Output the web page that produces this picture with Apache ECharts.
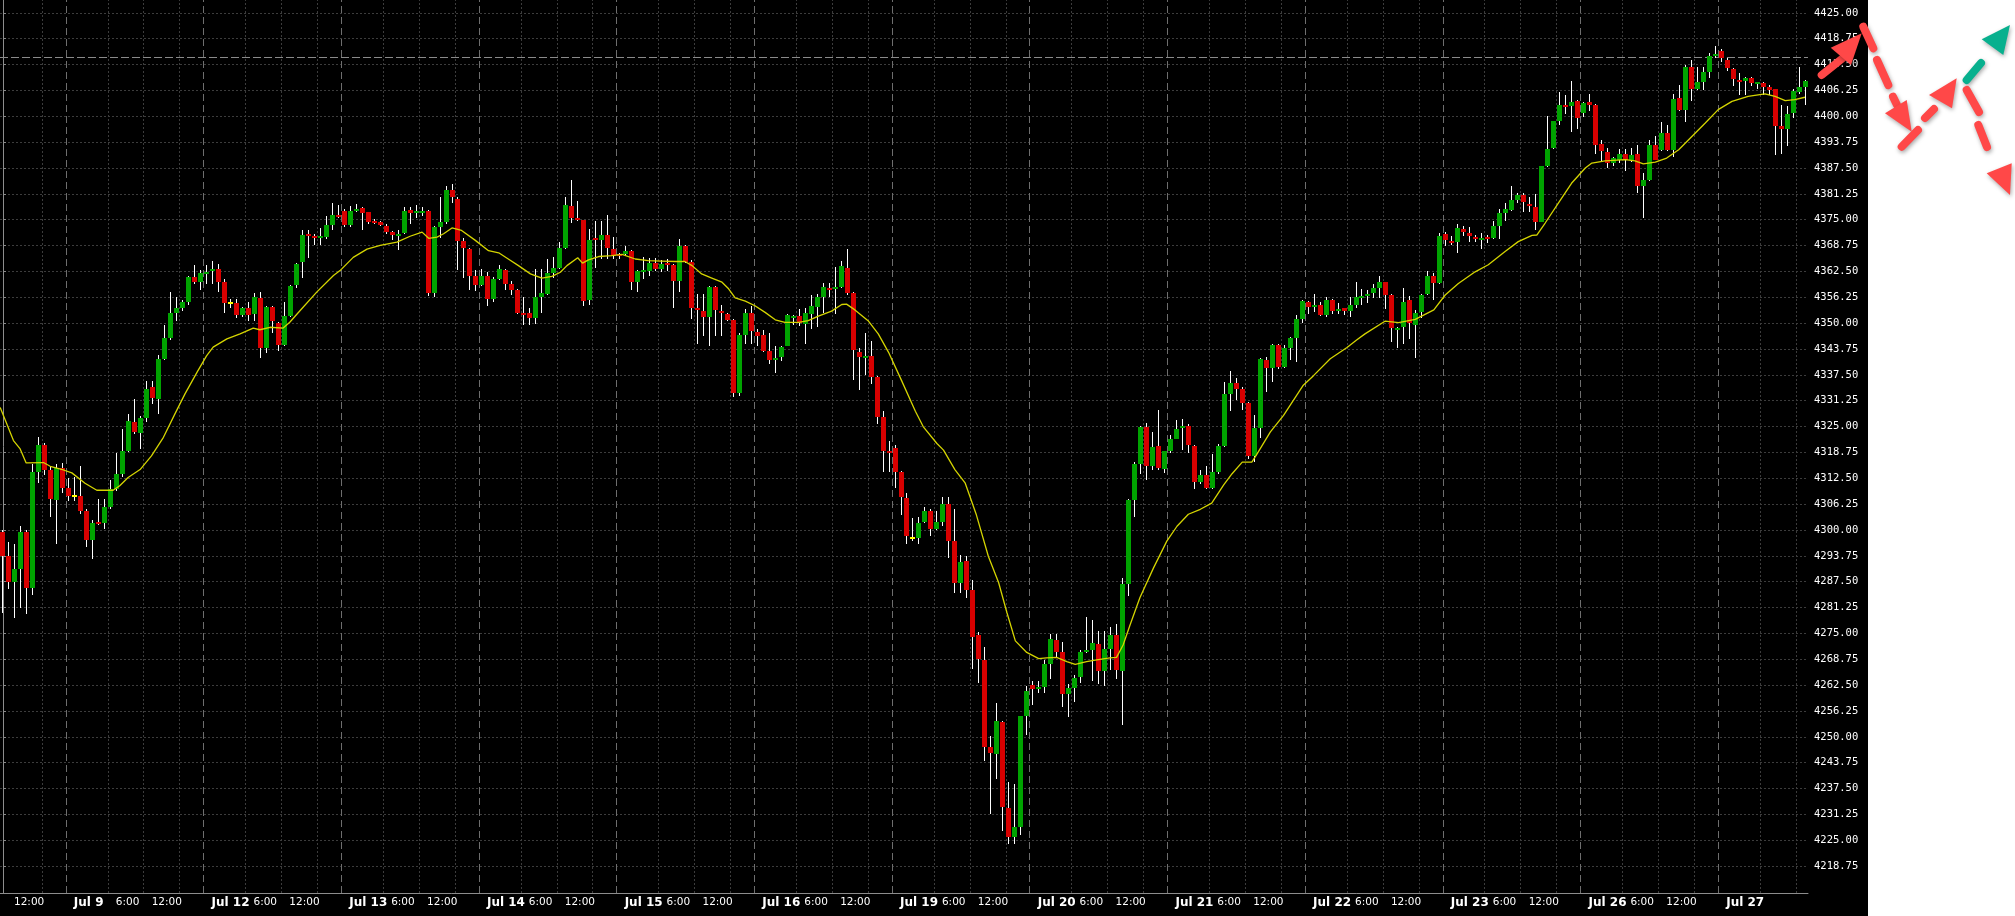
<!DOCTYPE html>
<html><head><meta charset="utf-8">
<script src="https://cdn.jsdelivr.net/npm/echarts@6/dist/echarts.min.js"></script>
<style>
html,body{margin:0;padding:0;background:#fff;}
#c{width:2015px;height:916px;background:linear-gradient(to right,#000 0,#000 1868px,#fff 1868px);}
</style>
</head><body><div id="c"></div>
<script>
// ---- DATA (hourly bars, index 0..301) ----
const opens = [
4299.5,4293.75,4287.5,4290.5,4299.5,4286,4314,4320.5,4314.5,4307.25,
4315,4310.25,4308.25,4308.25,4304.5,4297.5,4302,4301.75,4305.5,4310,
4313.5,4319,4326,4323.5,4327,4334.5,4331.75,4341.25,4346.5,4352.5,
4353.75,4355,4361.25,4360,4362,4362.5,4363,4360,4354.75,4354.75,
4352,4353.75,4352.25,4356,4344,4354,4350,4344.75,4351.75,4359.25,
4364.75,4371.5,4371,4370.5,4370.75,4373.75,4376.25,4377,4373.75,4377,
4377.75,4376.75,4374.75,4374.5,4373.5,4372,4371,4371.75,4377.25,4376.5,
4376.75,4377,4357.25,4373.25,4374.5,4382.25,4380,4369.75,4368,4361.5,
4359.25,4361.5,4355.75,4360.75,4362.75,4359.5,4358,4352.5,4352.5,4351.25,
4356.25,4357,4362,4363.25,4368.25,4378.25,4375.5,4375,4355.5,4370.5,
4370,4371.25,4368,4366.75,4366.75,4367.5,4360,4362.5,4362.5,4364.5,
4363,4364.5,4364,4360.25,4368.75,4364.75,4353.75,4353,4351.5,4358.75,
4353,4352.25,4350.75,4333,4347.25,4352.5,4347.75,4347.25,4343.25,4341,
4341.75,4344.5,4351.25,4351.75,4349.75,4352.25,4354,4356.25,4358.5,4358.25,
4358.75,4363.25,4357.25,4343,4341.5,4342,4337,4327.25,4319,4319.75,
4314,4307.75,4298,4298,4302,4304.5,4300.25,4302,4306.25,4297.25,
4287.25,4292.5,4285.5,4274.5,4268.5,4247.5,4245.75,4253.5,4232.75,4225.75,
4228.25,4255,4262.5,4261.5,4262,4267.5,4273.5,4270.5,4260.25,4261.75,
4264.5,4270.5,4271,4272.5,4266,4271.25,4274.5,4266,4287,4307.25,
4316,4325,4315.5,4320.25,4314.75,4319,4322,4324.75,4325.25,4320.25,
4311.5,4313.25,4310.25,4314,4320.25,4332.75,4335.5,4334,4330.75,4318,
4324.75,4341,4339.25,4344.75,4339.5,4344,4346.5,4351,4355,4354,
4354.5,4352,4355.5,4353.25,4353.75,4353,4354.5,4356.25,4356.5,4357.25,
4358.5,4360,4356.75,4348.5,4349,4355.5,4349.5,4352.75,4357,4361.5,
4359.75,4371.5,4369.75,4369.5,4372.75,4371.75,4370.75,4370.25,4370.75,4370.5,
4373.5,4376.5,4377.25,4379.75,4381,4378.75,4378,4374.5,4388,4392.25,
4398.75,4402.75,4402.5,4403.75,4400.75,4403.5,4402.75,4393.25,4391.25,4388.75,
4389.5,4391,4389.5,4391,4383.25,4384.5,4393,4391.75,4396,4391.75,
4404.5,4401.5,4412,4406.5,4408.25,4410.75,4414.5,4415.75,4413.5,4411.5,
4408.75,4408.5,4409.25,4407.75,4408,4407,4406.5,4397.75,4397,4400.75,
4405.75,4407
];
const highs = [
4300,4297,4296.5,4301,4300,4316,4322.5,4321,4315.5,4316,
4316.25,4312.5,4312.75,4315.5,4305,4302.5,4307.5,4307.5,4312,4318.5,
4324.5,4328,4331.75,4327.5,4336,4336,4342.25,4349.5,4357.5,4356.25,
4355.5,4361.5,4364,4362.75,4364,4365,4364.25,4360.75,4355.75,4355.75,
4354,4355,4357.25,4357.5,4354.25,4354.25,4350.25,4355,4359.25,4364.5,
4372.5,4372.5,4371.5,4373,4376,4379,4378.5,4377.5,4378.25,4378.75,
4378,4376.75,4375.25,4374.75,4374,4372.25,4372.5,4378,4378,4378.5,
4378,4377.25,4373.5,4380.5,4383.25,4383.75,4380.5,4370.5,4368.25,4362.75,
4363,4362.25,4361.25,4364,4363,4360.25,4358.25,4356.25,4353.75,4363,
4363,4365.5,4366,4369.5,4380.5,4384.5,4379.5,4375,4372.75,4374.75,
4374.75,4376.25,4370.75,4367,4368.75,4367.75,4362.75,4366,4365.75,4365.75,
4365.25,4365.5,4364.25,4370.25,4369,4365.25,4357,4357,4359,4359,
4354.5,4352.5,4351,4347.5,4353.5,4354.25,4348.5,4348.25,4347.5,4344.5,
4344.5,4352.25,4352,4353.5,4353.75,4356.75,4357,4359.75,4359.75,4363.5,
4365,4368,4357.5,4344,4347.5,4345.75,4337.25,4328.75,4321.5,4320.5,
4314.25,4309,4303,4303.25,4305.5,4305,4304.5,4308,4308,4305,
4294,4293.75,4288,4275.25,4271.75,4250.25,4258.25,4253.75,4239,4238.5,
4255,4262.25,4263.5,4263.5,4268.5,4274.75,4274.75,4273,4262.75,4265,
4271,4279,4278.25,4275.5,4275.5,4276.5,4277.25,4288.5,4307.5,4316.5,
4325.25,4325.75,4323.75,4329,4319,4323,4326.5,4326.75,4325.5,4320.5,
4314.5,4315.5,4318.25,4320.75,4335.75,4338.5,4336.75,4334.5,4331,4327.75,
4341.5,4341.75,4345,4345,4344.75,4346.75,4352,4355.5,4355.25,4357,
4355,4356.25,4355.75,4354.75,4353.75,4356.25,4360,4358.25,4358,4359.5,
4361.5,4360,4357,4349,4358.5,4356.5,4353.25,4357,4362.5,4362,
4371.75,4372,4371,4374,4373.5,4373.25,4371.25,4371.75,4371.25,4374.75,
4377.5,4379,4383.25,4381.5,4381.5,4380.5,4381.25,4388,4400,4398.75,
4405.75,4405.25,4408.5,4404,4403.5,4405.5,4403,4394.25,4392.25,4390.25,
4392,4392,4392.25,4393,4386.25,4394.25,4395.25,4398.5,4398,4405.5,
4407.5,4412.5,4413.5,4412,4412,4415.25,4417,4416.25,4414,4411.75,
4410.5,4409.5,4409.5,4408.25,4408.25,4407.5,4406.5,4402.75,4402.5,4406.5,
4412,4408.75
];
const lows = [
4280,4285.75,4278.75,4281.25,4279.75,4284.25,4311.25,4313.25,4303.25,4296.5,
4309,4307,4307,4303.75,4296,4293,4301.25,4300.25,4305,4309.5,
4312.75,4318.75,4323.25,4319.5,4326,4330.5,4328,4341,4346,4350.5,
4353,4354.5,4359.5,4358,4359.5,4359.5,4357.5,4352.5,4353.75,4351.25,
4351.5,4350.5,4350.5,4341.5,4342.75,4347.5,4343.25,4344.5,4351.5,4358.5,
4361,4365.75,4369,4369,4370.25,4372.5,4375.5,4373.25,4373.25,4376.75,
4372.5,4374,4374,4373.5,4371.5,4370,4367.75,4371.5,4374,4375.5,
4376,4356.5,4356.25,4370.5,4374,4379,4362.75,4361,4358,4357.75,
4359,4354.25,4355,4360.5,4358,4356.75,4352.25,4349.5,4349.5,4349.75,
4352.5,4356.75,4361,4363,4368,4374.25,4374.75,4354.25,4354.5,4363.25,
4365.5,4365.5,4365.5,4365.5,4366.25,4358,4357.5,4360.75,4361.5,4362.5,
4362.25,4362.5,4353.75,4357.5,4364.5,4351,4345,4347,4344.5,4347,
4347,4350.5,4332.25,4332.5,4345,4345,4344.5,4343,4340,4338,
4340.75,4344.5,4349.5,4349.25,4345,4348.5,4349,4352.5,4356.25,4352.25,
4358.5,4356.75,4336.25,4333.75,4337.5,4335.25,4325.5,4314,4314,4310.25,
4303.5,4296.5,4297.25,4296.5,4301.75,4298.5,4300,4301,4293.25,4284.75,
4284.75,4283.5,4266.5,4263,4244.25,4231.25,4239.75,4227.25,4224,4224,
4226.25,4250.5,4257.75,4260.5,4260.5,4264,4269,4257.25,4254.75,4258.5,
4263,4270.25,4263.5,4262.75,4262.25,4266.25,4264,4252.75,4284,4303.25,
4313.5,4312,4314.5,4314.5,4313.75,4318.5,4322,4319.25,4318.5,4310,
4311,4310,4310,4313.5,4320,4328.75,4331.5,4329,4317.25,4316.5,
4322.25,4333.25,4335.75,4339,4339.25,4341,4340.5,4350,4352.25,4352.75,
4351.75,4351.5,4352.25,4352.25,4352,4351.5,4353.75,4354.5,4354.75,4356,
4356,4353.5,4345.5,4344,4345,4346.25,4341.5,4351.25,4356.75,4355.5,
4359.5,4368.75,4369,4367,4371,4369.5,4369.5,4368,4369.25,4370.25,
4370.25,4374.75,4377,4379,4376.75,4376.75,4372.5,4374.5,4387.75,4392,
4398,4400.5,4396.25,4397,4399.75,4401.25,4391,4389.25,4387.5,4388,
4388.75,4386.75,4389,4381.5,4375.5,4384.25,4389.5,4391.5,4391.5,4390.25,
4401.25,4398.5,4403.75,4406.25,4406.25,4409.25,4414,4413,4411,4407.25,
4405.25,4405.25,4407.25,4406.5,4405.25,4405.25,4390.75,4391,4392.75,4399.5,
4405.5,4402.75
];
const closes = [
4293.75,4287.5,4290.5,4299.5,4286,4314,4320.5,4314.5,4307.5,4315,
4310.25,4308.25,4308.25,4304.5,4297.5,4301.75,4301.5,4305.5,4310,4313.5,
4319,4326.25,4323.75,4327,4334,4332,4341.25,4346.5,4352.5,4353.75,
4355,4361.25,4360,4362,4362.25,4363,4360,4354.75,4354.75,4352,
4353.75,4352,4356.25,4344,4354,4350.5,4344.75,4351.75,4359,4364.25,
4371.25,4371,4370.75,4371,4373.75,4376.25,4376,4373.75,4377,4377.5,
4376.5,4374.5,4374.5,4373.75,4372,4371.25,4371.5,4377,4376.5,4377,
4377,4357.25,4373.25,4374.5,4382.25,4380.5,4369.75,4368.25,4361.5,4359.25,
4361.5,4355.75,4360.75,4363,4359.5,4358,4352.5,4352.25,4351.25,4356.25,
4357.25,4362,4363.25,4368.25,4378.5,4375.5,4375,4355.25,4370,4370,
4371.25,4368.25,4366.25,4366.25,4367.5,4360,4362.5,4362.75,4364.5,4363,
4364.25,4364,4360.25,4368.75,4364.75,4353.75,4353.25,4351.5,4358.75,4353.25,
4352.5,4350.75,4333,4347.25,4352.5,4348,4347,4343.25,4341,4341.5,
4344.25,4352,4351.75,4350,4352.5,4354.25,4356.25,4358.75,4358,4358.75,
4363.75,4357.25,4343.5,4341.75,4342,4337,4327.25,4319,4318.5,4314,
4308,4298.5,4298,4301.75,4304.5,4300.25,4302,4306.25,4297.25,4287.25,
4292.25,4285.5,4274.25,4268.75,4247.5,4246,4253.75,4233,4225.75,4228.25,
4255,4261,4261.5,4262,4267.5,4273.75,4270.5,4260.25,4261.75,4264.25,
4270.5,4271,4272.75,4266,4271.25,4274.5,4266.25,4287,4307.25,4316,
4325,4315.5,4320,4315,4319,4322,4324.5,4325.25,4320.5,4311.5,
4313.25,4310.25,4314,4320.25,4332.75,4335.5,4334,4330.75,4318,4324.75,
4341.25,4339.25,4344.75,4339.5,4344,4346.5,4351,4355.25,4354,4354.5,
4352,4355.5,4353,4353.5,4353,4354.5,4356.25,4356.5,4357,4358.5,
4360,4356.75,4348.75,4348.75,4355,4350,4352.5,4356.75,4361.5,4359.75,
4371,4370,4369.25,4373,4372,4371,4370.5,4370.5,4370.5,4373.5,
4376.5,4377.5,4379.75,4381,4379.25,4378.5,4374.5,4388,4392,4398.75,
4402.75,4402.5,4403.5,4399.5,4403.25,4402.75,4393,4391.5,4388.75,4390,
4391,4389.5,4390.75,4383.25,4384.5,4393,4389.5,4396,4391.75,4404.25,
4401.5,4412,4406.5,4408.25,4410.75,4414.5,4415,4414,4411.75,4409,
4408.25,4409.25,4408,4408.25,4407,4406.25,4397.75,4397,4400.5,4406,
4407,4408.5
];
// Moving average line: bar position / value
const maIdx = [-0.47,1.75,2.87,3.87,6.76,7.88,10.1,11.5,13.7,15.67,18.4,19.5,20.9,22.9,24.8,26.8,28.7,30.4,32.4,34.0,35.1,37.4,39.6,41.8,42.9,44.6,46.8,47.9,49.6,52.4,55.2,56.3,58.5,60.8,63.0,65.8,68.0,70.0,71.1,72.5,73.6,75.0,76.6,78.9,81.1,82.8,84.4,86.1,88.1,90.0,91.7,93.1,94.2,96.0,96.8,97.8,99.5,101.7,103.4,105.6,107.8,110.0,112.3,113.9,115.1,116.7,118.4,120.1,121.2,122.3,124.0,125.6,127.3,129.0,130.6,132.9,134.5,136.2,138.4,140.1,140.9,142.3,144.5,146.2,147.9,150.1,152.4,153.7,156.0,157.1,159.0,160.7,162.6,164.6,166.3,167.7,169.1,171.0,173.0,174.3,176.0,177.7,179.1,181.0,182.7,184.9,186.0,187.1,188.3,189.9,192.2,194.4,196.1,198.0,200.0,201.9,203.9,205.3,207.0,208.6,209.4,211.7,213.9,217.2,218.9,221.7,224.5,226.1,227.5,230.9,233.1,235.9,239.0,240.9,243.1,245.9,248.1,250.9,253.1,255.4,256.2,257.6,259.8,262.0,264.3,265.4,267.6,271.0,272.6,274.0,276.0,277.9,279.9,282.1,284.3,286.5,288.8,291.5,294.3,296.0,297.7,299.3,301.0];
const maVal = [4329.6,4321.6,4319.6,4316.2,4316.3,4315.4,4314.5,4313.8,4311.3,4309.6,4309.6,4310.7,4312.7,4314.6,4317.9,4322.4,4328.0,4332.9,4338.1,4342.1,4344.2,4346.2,4347.4,4348.8,4348.4,4349.0,4348.8,4350.2,4353.0,4357.5,4361.5,4362.7,4365.9,4367.9,4368.8,4369.6,4371.0,4372.0,4370.5,4370.8,4371.6,4373.0,4372.4,4370.0,4367.5,4367.0,4365.5,4363.9,4361.9,4360.9,4361.3,4362.3,4363.9,4365.8,4364.5,4365.3,4366.1,4366.3,4366.6,4365.5,4365.1,4365.0,4364.9,4364.9,4363.9,4361.9,4360.9,4359.9,4358.3,4356.1,4355.3,4354.2,4352.6,4350.8,4350.2,4350.2,4350.6,4351.7,4352.9,4354.5,4354.6,4353.2,4350.6,4347.4,4343.0,4336.1,4328.7,4325.0,4320.9,4319.3,4314.6,4311.4,4303.6,4293.6,4287.3,4280.0,4273.2,4270.4,4268.9,4269.1,4269.2,4268.2,4267.5,4268.2,4268.6,4269.1,4269.2,4272.2,4277.2,4283.6,4290.9,4297.3,4300.9,4303.8,4305.0,4306.5,4310.9,4313.6,4316.4,4316.4,4318.2,4323.7,4327.7,4335.0,4337.3,4341.4,4344.1,4345.9,4347.4,4350.5,4350.1,4350.9,4353.2,4356.8,4359.6,4362.4,4364.1,4367.3,4369.7,4371.2,4371.3,4374.2,4379.0,4383.8,4387.5,4388.7,4389.2,4389.5,4389.2,4388.5,4388.9,4389.9,4391.9,4395.1,4398.3,4401.6,4403.6,4404.8,4405.4,4404.8,4403.8,4404.0,4404.6];
// price axis ticks
const yTicks = [4218.75,4225,4231.25,4237.5,4243.75,4250,4256.25,4262.5,4268.75,4275,4281.25,4287.5,4293.75,4300,4306.25,4312.5,4318.75,4325,4331.25,4337.5,4343.75,4350,4356.25,4362.5,4368.75,4375,4381.25,4387.5,4393.75,4400,4406.25,4412.5,4418.75,4425];
// time axis labels (bar index where the label sits, text)
const xTickIdx = [1,11,18,24,34,41,47,57,64,70,80,87,93,103,110,116,126,133,139,149,156,162,172,179,185,195,202,208,218,225,231,241,248,254,264,271,277,287];
const xTickText = ['12:00','Jul 9','6:00','12:00','Jul 12','6:00','12:00','Jul 13','6:00','12:00','Jul 14','6:00','12:00','Jul 15','6:00','12:00','Jul 16','6:00','12:00','Jul 19','6:00','12:00','Jul 20','6:00','12:00','Jul 21','6:00','12:00','Jul 22','6:00','12:00','Jul 23','6:00','12:00','Jul 26','6:00','12:00','Jul 27'];
// first bar of each trading day (period separators) and intraday grid bars
const daySepIdx = [11,34,57,80,103,126,149,172,195,218,241,264,287];
const gridVIdx = [7,18,24,30,41,47,53,64,70,76,87,93,99,110,116,122,133,139,145,156,162,168,179,185,191,202,208,214,225,231,237,248,254,260,271,277,283,294,300];
const priceLine = 4414.25;

// ---- CHART ----
const N = opens.length;
const categories = opens.map((_, i) => String(i));
const candleData = opens.map((o, i) => [i, o, closes[i], lows[i], highs[i]]);
const maData = maIdx.map((k, i) => [k, maVal[i]]);
const labelMap = new Map(xTickIdx.map((k, i) => [k, xTickText[i]]));
const UP = '#00a300', DOWN = '#d80000', DOJI = '#ffff00';

function renderCandle(params, api) {
  const i = api.value(0), o = api.value(1), c = api.value(2), l = api.value(3), h = api.value(4);
  const pO = api.coord([i, o]);
  const yC = api.coord([i, c])[1], yL = api.coord([i, l])[1], yH = api.coord([i, h])[1];
  const xl = Math.round(pO[0] - 2.5);
  const wick = { type: 'rect', shape: { x: xl + 2, y: Math.round(yH), width: 1, height: Math.max(1, Math.round(yL) - Math.round(yH)) }, style: { fill: '#ffffff' } };
  let body;
  if (o === c) {
    body = { type: 'rect', shape: { x: xl, y: Math.round(pO[1]) - 1, width: 5, height: 2 }, style: { fill: DOJI } };
  } else {
    const top = Math.round(Math.min(pO[1], yC)), bot = Math.round(Math.max(pO[1], yC));
    body = { type: 'rect', shape: { x: xl, y: top, width: 5, height: Math.max(2, bot - top) }, style: { fill: c > o ? UP : DOWN } };
  }
  return { type: 'group', children: [wick, body] };
}

const RED = '#ff4848', GRN = '#08b08e';
const sh = { shadowBlur: 4, shadowColor: 'rgba(0,0,0,0.35)', shadowOffsetX: 1, shadowOffsetY: 2 };
function seg(x1, y1, x2, y2, col) {
  return { type: 'line', z: 100, silent: true, shape: { x1, y1, x2, y2 }, style: Object.assign({ stroke: col, lineWidth: 8, lineCap: 'round' }, sh) };
}
function head(pts, col) {
  return { type: 'polygon', z: 100, silent: true, shape: { points: pts }, style: Object.assign({ fill: col }, sh) };
}

const chart = echarts.init(document.getElementById('c'), null, { renderer: 'canvas' });
chart.setOption({
  backgroundColor: 'transparent',
  animation: false,
  grid: { left: 0, top: 0, width: 1808, height: 893, containLabel: false },
  xAxis: [{
    type: 'category', data: categories, boundaryGap: true, position: 'bottom',
    axisLine: { show: true, lineStyle: { color: '#8c8c8c', width: 1 } },
    axisTick: { show: false },
    splitLine: { show: false },
    axisLabel: {
      interval: (idx) => labelMap.has(idx),
      formatter: (val, idx) => {
        const t = labelMap.get(Number(val)) || '';
        return t.startsWith('Jul') ? '{d|' + t + '}' : '{t|' + t + '}';
      },
      align: 'left', margin: 4, padding: [0, 0, 0, 5], color: '#ffffff',
      rich: {
        d: { fontFamily: 'DejaVu Sans', fontWeight: 'bold', fontSize: 12, color: '#ffffff' },
        t: { fontFamily: 'DejaVu Sans', fontSize: 10.5, color: '#ffffff' }
      }
    }
  }, {
    type: 'value', min: -0.5, max: N - 0.5, show: false
  }],
  yAxis: [{
    type: 'value', position: 'right', min: 4212.25, max: 4428.106, scale: true,
    axisLine: { show: true, lineStyle: { color: '#8c8c8c', width: 1 } },
    axisTick: { show: true, length: 3, customValues: yTicks, lineStyle: { color: '#8c8c8c' } },
    axisLabel: { customValues: yTicks, formatter: (v) => Number(v).toFixed(2), color: '#ffffff', fontFamily: 'DejaVu Sans Mono', fontSize: 10.5, margin: 6 },
    splitLine: { show: true, lineStyle: { color: '#3c3c3c', type: [2, 2], width: 1 } }
  }],
  series: [{
    type: 'line', xAxisIndex: 1, data: [], z: 1, silent: true,
    markLine: { silent: true, symbol: 'none', label: { show: false }, animation: false,
      lineStyle: { color: '#3c3c3c', type: [2, 2], width: 1 },
      data: gridVIdx.map(k => ({ xAxis: k - 0.5 })) }
  }, {
    type: 'line', xAxisIndex: 1, data: [], z: 2, silent: true,
    markLine: { silent: true, symbol: 'none', label: { show: false }, animation: false,
      lineStyle: { color: '#6e6e6e', type: [7, 4], width: 1 },
      data: daySepIdx.map(k => ({ xAxis: k - 0.5 })) }
  }, {
    type: 'line', xAxisIndex: 1, data: [], z: 2, silent: true,
    markLine: { silent: true, symbol: 'none', label: { show: false }, animation: false,
      lineStyle: { color: '#8a8a8a', type: [8, 3], width: 1 },
      data: [{ yAxis: priceLine }] }
  }, {
    type: 'custom', name: 'ES', xAxisIndex: 0, renderItem: renderCandle, data: candleData, z: 5, silent: true,
    encode: { x: 0, y: [1, 2, 3, 4] }
  }, {
    type: 'line', name: 'MA', xAxisIndex: 1, data: maData, z: 6, showSymbol: false, symbol: 'none', silent: true,
    lineStyle: { color: '#d4d400', width: 1.3 }
  }],
  graphic: [
    seg(1821.7, 75, 1846.7, 55, RED),
    head([[1830.7, 47.7], [1861.7, 33.3], [1851, 65]], RED),
    seg(1863.3, 26.7, 1873.3, 48.3, RED),
    seg(1877, 60, 1888.3, 85, RED),
    seg(1893, 96.7, 1897, 105, RED),
    head([[1885, 113.3], [1911.7, 131.7], [1906.7, 100]], RED),
    seg(1901.7, 146.7, 1918, 130, RED),
    seg(1925, 118, 1934, 109, RED),
    head([[1929, 95], [1956.7, 78.3], [1952, 108.3]], RED),
    seg(1966.7, 80, 1981, 63, GRN),
    head([[1981.7, 39.3], [2010, 25], [2003.3, 55]], GRN),
    seg(1966.7, 90, 1979, 112, RED),
    seg(1978.3, 125, 1987, 147, RED),
    head([[1986.7, 173.3], [2010, 195], [2011.7, 163.3]], RED)
  ]
});
</script>
</body></html>
